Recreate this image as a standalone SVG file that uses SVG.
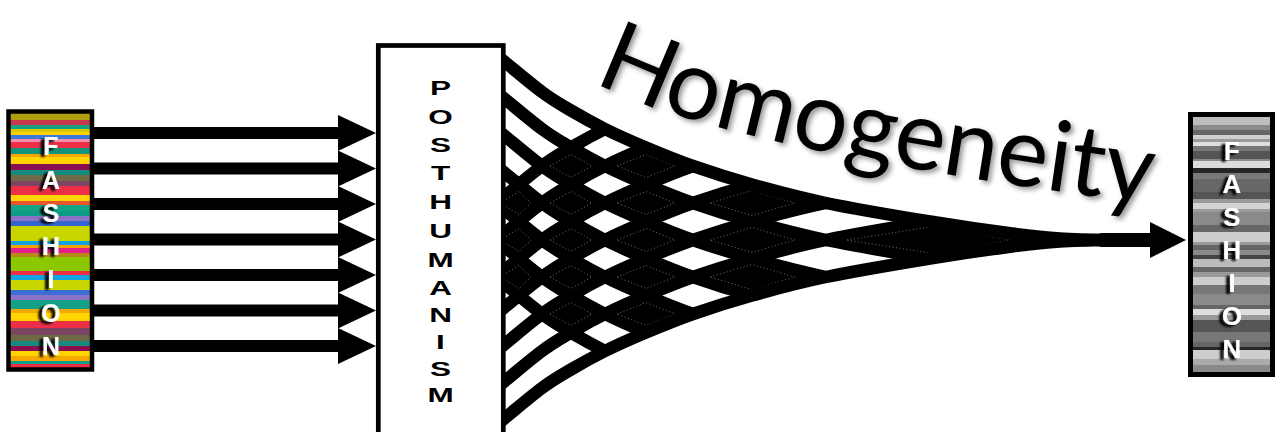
<svg xmlns="http://www.w3.org/2000/svg" xmlns:xlink="http://www.w3.org/1999/xlink" width="1275" height="432" viewBox="0 0 1275 432">
<defs>
<style>
.fl{font-family:"Liberation Sans",Arial,sans-serif;font-weight:bold;font-size:25px;fill:#fff;text-anchor:middle;filter:url(#sh)}
.fr{font-family:"Liberation Sans",Arial,sans-serif;font-weight:bold;font-size:26px;fill:#fff;text-anchor:middle;filter:url(#sh)}
.ph{font-family:"Liberation Sans",Arial,sans-serif;font-weight:bold;font-size:21px;fill:#000;text-anchor:middle}
.hom{font-family:Lato,"Noto Sans",sans-serif;font-size:98px;fill:#000;filter:url(#tsh)}
.ln{fill:none;stroke:#000;stroke-width:12.5}
.cell{fill:#000}
.dot{fill:none;stroke:#8a8a8a;stroke-width:0.8;stroke-dasharray:1 2.5}
.box{fill:none;stroke:#000}
</style>
<filter id="sh" x="-60%" y="-30%" width="220%" height="160%"><feDropShadow dx="-4" dy="2" stdDeviation="1.3" flood-color="#000" flood-opacity="1"/></filter>
<filter id="tsh" filterUnits="userSpaceOnUse" x="540" y="0" width="700" height="280"><feDropShadow dx="3" dy="3" stdDeviation="2.5" flood-color="#000" flood-opacity="0.4"/></filter>
<path id="gd" class="ln" d="M500,-9 C514,2.3 530.2,16.3 542,25 C553.8,33.8 560.5,37.3 571,43.5 C581.5,49.7 592.5,55.8 605,62 C617.5,68.2 631.3,74.3 646,80.5 C660.7,86.7 675.3,92.8 693,99 C710.7,105.2 729.8,111.3 752,117.5 C774.2,123.7 796.3,129.8 826,136 C855.7,142.2 899,149.4 930,154.5 C961,159.6 990.3,163.7 1012,166.5 C1033.7,169.3 1043.7,170.4 1060,171.5 C1076.3,172.6 1093.3,172.8 1110,173 L1160,173"/>
<path id="gu" class="ln" d="M500,9 C514,-2.3 530.2,-16.3 542,-25 C553.8,-33.8 560.5,-37.3 571,-43.5 C581.5,-49.7 592.5,-55.8 605,-62 C617.5,-68.2 631.3,-74.3 646,-80.5 C660.7,-86.7 675.3,-92.8 693,-99 C710.7,-105.2 729.8,-111.3 752,-117.5 C774.2,-123.7 796.3,-129.8 826,-136 C855.7,-142.2 899,-149.4 930,-154.5 C961,-159.6 990.3,-163.7 1012,-166.5 C1033.7,-169.3 1043.7,-170.4 1060,-171.5 C1076.3,-172.6 1093.3,-172.8 1110,-173 L1160,-173"/>
<clipPath id="fanclip"><path d="M500,58 C514,69.3 530.2,83.3 542,92 C553.8,100.8 560.5,104.3 571,110.5 C581.5,116.7 592.5,122.8 605,129 C617.5,135.2 631.3,141.3 646,147.5 C660.7,153.7 675.3,159.8 693,166 C710.7,172.2 729.8,178.3 752,184.5 C774.2,190.7 796.3,196.8 826,203 C855.7,209.2 899,216.4 930,221.5 C961,226.6 990.3,230.7 1012,233.5 C1033.7,236.3 1043.7,237.4 1060,238.5 C1076.3,239.6 1093.3,239.8 1110,240 L1165,240 L1110,240 C1093.3,240.2 1076.3,240.4 1060,241.5 C1043.7,242.6 1033.7,243.7 1012,246.5 C990.3,249.3 961,253.4 930,258.5 C899,263.6 855.7,270.8 826,277 C796.3,283.2 774.2,289.3 752,295.5 C729.8,301.7 710.7,307.8 693,314 C675.3,320.2 660.7,326.3 646,332.5 C631.3,338.7 617.5,344.8 605,351 C592.5,357.2 581.5,363.3 571,369.5 C560.5,375.7 553.8,379.2 542,388 C530.2,396.7 514,410.7 500,422 Z"/></clipPath>
<path id="hbase" d="M594,81 Q710,147 1152,204 L1262,218" fill="none"/>
<g id="arr"><rect x="93" y="-6" width="246" height="12" fill="#000"/><polygon points="338,-18 376,0 338,18" fill="#000"/></g>
</defs>
<rect x="0" y="0" width="1275" height="432" fill="#fff"/>

<g id="connectors">
<g id="input-arrows">
<use href="#arr" y="133"/>
<use href="#arr" y="168.5"/>
<use href="#arr" y="204"/>
<use href="#arr" y="239.5"/>
<use href="#arr" y="275"/>
<use href="#arr" y="310.5"/>
<use href="#arr" y="346"/>
</g>
<g id="homogenizing-fan">
<g clip-path="url(#fanclip)">
<polygon class="cell" points="495,203 519,184.5 542,203 519,221.5"/>
<polygon class="cell" points="495,240 519,221.5 542,240 519,258.5"/>
<polygon class="cell" points="495,277 519,258.5 542,277 519,295.5"/>
<polygon class="cell" points="542,166 571,147.5 605,166 571,184.5"/>
<polygon class="cell" points="542,203 571,184.5 605,203 571,221.5"/>
<polygon class="cell" points="542,240 571,221.5 605,240 571,258.5"/>
<polygon class="cell" points="542,277 571,258.5 605,277 571,295.5"/>
<polygon class="cell" points="542,314 571,295.5 605,314 571,332.5"/>
<polygon class="cell" points="605,166 646,147.5 693,166 646,184.5"/>
<polygon class="cell" points="605,203 646,184.5 693,203 646,221.5"/>
<polygon class="cell" points="605,240 646,221.5 693,240 646,258.5"/>
<polygon class="cell" points="605,277 646,258.5 693,277 646,295.5"/>
<polygon class="cell" points="605,314 646,295.5 693,314 646,332.5"/>
<polygon class="cell" points="693,203 752,184.5 826,203 752,221.5"/>
<polygon class="cell" points="693,240 752,221.5 826,240 752,258.5"/>
<polygon class="cell" points="693,277 752,258.5 826,277 752,295.5"/>
<polygon class="cell" points="826,240 930,221.5 1110,240 930,258.5"/>
<use href="#gd" y="104"/>
<use href="#gd" y="141"/>
<use href="#gd" y="178"/>
<use href="#gd" y="215"/>
<use href="#gd" y="252"/>
<use href="#gd" y="289"/>
<use href="#gu" y="376"/>
<use href="#gu" y="339"/>
<use href="#gu" y="302"/>
<use href="#gu" y="265"/>
<use href="#gu" y="228"/>
<use href="#gu" y="191"/>
<polygon class="dot" points="500,203 519,191.5 531,203 519,214.5"/>
<polygon class="dot" points="500,240 519,228.5 531,240 519,251.5"/>
<polygon class="dot" points="500,277 519,265.5 531,277 519,288.5"/>
<polygon class="dot" points="550,166 571,154.5 592,166 571,177.5"/>
<polygon class="dot" points="550,203 571,191.5 592,203 571,214.5"/>
<polygon class="dot" points="550,240 571,228.5 592,240 571,251.5"/>
<polygon class="dot" points="550,277 571,265.5 592,277 571,288.5"/>
<polygon class="dot" points="550,314 571,302.5 592,314 571,325.5"/>
<polygon class="dot" points="617,166 646,154.5 675,166 646,177.5"/>
<polygon class="dot" points="617,203 646,191.5 675,203 646,214.5"/>
<polygon class="dot" points="617,240 646,228.5 675,240 646,251.5"/>
<polygon class="dot" points="617,277 646,265.5 675,277 646,288.5"/>
<polygon class="dot" points="617,314 646,302.5 675,314 646,325.5"/>
<polygon class="dot" points="710,203 752,190.5 795,203 752,215.5"/>
<polygon class="dot" points="710,240 752,227.5 795,240 752,252.5"/>
<polygon class="dot" points="710,277 752,264.5 795,277 752,289.5"/>
<polygon class="dot" points="847,240 930,227 1012,240 930,253"/>
</g>
<use href="#gd" y="67"/>
<use href="#gu" y="413"/>
<rect x="1100" y="233" width="52" height="14" fill="#000"/>
<polygon points="1150,222 1186,240 1150,258" fill="#000"/>
</g>
</g>

<g id="fashion-left">
<rect x="10" y="113" width="81" height="255" fill="#ec2f47"/>
<rect x="10" y="113" width="81" height="7" fill="#b0a010"/>
<rect x="10" y="120" width="81" height="5" fill="#c8384a"/>
<rect x="10" y="125" width="81" height="4" fill="#17a37f"/>
<rect x="10" y="129" width="81" height="3" fill="#d4c800"/>
<rect x="10" y="132" width="81" height="3" fill="#ffd200"/>
<rect x="10" y="135" width="81" height="4" fill="#3b78d8"/>
<rect x="10" y="139" width="81" height="3" fill="#f58fb0"/>
<rect x="10" y="142" width="81" height="6" fill="#ec2f47"/>
<rect x="10" y="148" width="81" height="6" fill="#14937c"/>
<rect x="10" y="154" width="81" height="3" fill="#f6a800"/>
<rect x="10" y="157" width="81" height="7" fill="#ffd400"/>
<rect x="10" y="164" width="81" height="6" fill="#8b0f50"/>
<rect x="10" y="170" width="81" height="5" fill="#168a7c"/>
<rect x="10" y="175" width="81" height="6" fill="#6d6a45"/>
<rect x="10" y="181" width="81" height="5" fill="#7d4563"/>
<rect x="10" y="186" width="81" height="9" fill="#ec2f47"/>
<rect x="10" y="195" width="81" height="6" fill="#ffd400"/>
<rect x="10" y="201" width="81" height="4" fill="#e9562d"/>
<rect x="10" y="205" width="81" height="6" fill="#15a384"/>
<rect x="10" y="211" width="81" height="5" fill="#0e9b85"/>
<rect x="10" y="216" width="81" height="5" fill="#8a72c4"/>
<rect x="10" y="221" width="81" height="5" fill="#3465d0"/>
<rect x="10" y="226" width="81" height="15" fill="#c9d600"/>
<rect x="10" y="241" width="81" height="4" fill="#12a2e2"/>
<rect x="10" y="245" width="81" height="3" fill="#f4a300"/>
<rect x="10" y="248" width="81" height="5" fill="#e0218a"/>
<rect x="10" y="253" width="81" height="4" fill="#b98a1a"/>
<rect x="10" y="257" width="81" height="14" fill="#8cc800"/>
<rect x="10" y="271" width="81" height="4" fill="#ec2f47"/>
<rect x="10" y="275" width="81" height="5" fill="#14a3e0"/>
<rect x="10" y="280" width="81" height="10" fill="#c9d600"/>
<rect x="10" y="290" width="81" height="5" fill="#3b6fd6"/>
<rect x="10" y="295" width="81" height="5" fill="#8a72c4"/>
<rect x="10" y="300" width="81" height="9" fill="#14a086"/>
<rect x="10" y="309" width="81" height="4" fill="#f6a800"/>
<rect x="10" y="313" width="81" height="8" fill="#ffd400"/>
<rect x="10" y="321" width="81" height="7" fill="#ec2f47"/>
<rect x="10" y="328" width="81" height="7" fill="#7d4563"/>
<rect x="10" y="335" width="81" height="6" fill="#6d6a45"/>
<rect x="10" y="341" width="81" height="5" fill="#168a7c"/>
<rect x="10" y="346" width="81" height="5" fill="#8b0f50"/>
<rect x="10" y="351" width="81" height="5" fill="#ffd400"/>
<rect x="10" y="356" width="81" height="5" fill="#f6a800"/>
<rect x="10" y="361" width="81" height="3" fill="#14a086"/>
<rect class="box" x="8.5" y="111.5" width="83.5" height="258" stroke-width="4.5"/>
<text class="fl"><tspan x="51" y="155">F</tspan><tspan x="51" y="189">A</tspan><tspan x="51" y="222">S</tspan><tspan x="51" y="255">H</tspan><tspan x="51" y="288">I</tspan><tspan x="51" y="322">O</tspan><tspan x="51" y="355">N</tspan></text>
</g>

<g id="posthumanism">
<rect x="378.3" y="45.5" width="125" height="400" fill="#fff" stroke="#000" stroke-width="4.7"/>
<g transform="translate(440.5,0) scale(1.5,1)">
<text class="ph"><tspan x="0" y="95">P</tspan><tspan x="0" y="124">O</tspan><tspan x="0" y="152">S</tspan><tspan x="0" y="180">T</tspan><tspan x="0" y="209">H</tspan><tspan x="0" y="238">U</tspan><tspan x="0" y="267">M</tspan><tspan x="0" y="295">A</tspan><tspan x="0" y="322">N</tspan><tspan x="0" y="349">I</tspan><tspan x="0" y="376">S</tspan><tspan x="0" y="402">M</tspan></text>
</g>
</g>

<g id="homogeneity-label">
<text class="hom"><textPath href="#hbase" textLength="572" lengthAdjust="spacingAndGlyphs">Homogeneity</textPath></text>
</g>

<g id="fashion-right">
<rect x="1192" y="117" width="79" height="256" fill="#888"/>
<rect x="1192" y="117" width="79" height="8" fill="#bdbdbd"/>
<rect x="1192" y="125" width="79" height="5" fill="#8a8a8a"/>
<rect x="1192" y="130" width="79" height="5" fill="#666"/>
<rect x="1192" y="135" width="79" height="4" fill="#cfcfcf"/>
<rect x="1192" y="139" width="79" height="3" fill="#9a9a9a"/>
<rect x="1192" y="142" width="79" height="4" fill="#dedede"/>
<rect x="1192" y="146" width="79" height="5" fill="#777"/>
<rect x="1192" y="151" width="79" height="8" fill="#555"/>
<rect x="1192" y="159" width="79" height="2" fill="#8a8a8a"/>
<rect x="1192" y="161" width="79" height="7" fill="#dcdcdc"/>
<rect x="1192" y="168" width="79" height="5" fill="#262626"/>
<rect x="1192" y="173" width="79" height="6" fill="#7a7a7a"/>
<rect x="1192" y="179" width="79" height="13" fill="#676767"/>
<rect x="1192" y="192" width="79" height="7" fill="#555"/>
<rect x="1192" y="199" width="79" height="4" fill="#9a9a9a"/>
<rect x="1192" y="203" width="79" height="6" fill="#d4d4d4"/>
<rect x="1192" y="209" width="79" height="3" fill="#9a9a9a"/>
<rect x="1192" y="212" width="79" height="13" fill="#8a8a8a"/>
<rect x="1192" y="225" width="79" height="7" fill="#676767"/>
<rect x="1192" y="232" width="79" height="10" fill="#cdcdcd"/>
<rect x="1192" y="242" width="79" height="3" fill="#9a9a9a"/>
<rect x="1192" y="245" width="79" height="5" fill="#666"/>
<rect x="1192" y="250" width="79" height="5" fill="#8a8a8a"/>
<rect x="1192" y="255" width="79" height="4" fill="#444"/>
<rect x="1192" y="259" width="79" height="8" fill="#bcbcbc"/>
<rect x="1192" y="267" width="79" height="5" fill="#666"/>
<rect x="1192" y="272" width="79" height="5" fill="#9a9a9a"/>
<rect x="1192" y="277" width="79" height="8" fill="#cdcdcd"/>
<rect x="1192" y="285" width="79" height="9" fill="#777"/>
<rect x="1192" y="294" width="79" height="11" fill="#8a8a8a"/>
<rect x="1192" y="305" width="79" height="4" fill="#666"/>
<rect x="1192" y="309" width="79" height="6" fill="#dedede"/>
<rect x="1192" y="315" width="79" height="5" fill="#9a9a9a"/>
<rect x="1192" y="320" width="79" height="12" fill="#555"/>
<rect x="1192" y="332" width="79" height="10" fill="#777"/>
<rect x="1192" y="342" width="79" height="5" fill="#666"/>
<rect x="1192" y="347" width="79" height="3" fill="#262626"/>
<rect x="1192" y="350" width="79" height="9" fill="#cdcdcd"/>
<rect x="1192" y="359" width="79" height="6" fill="#aaa"/>
<rect x="1192" y="365" width="79" height="8" fill="#8a8a8a"/>
<rect class="box" x="1190.5" y="114.5" width="82" height="260" stroke-width="5"/>
<text class="fr"><tspan x="1232" y="160">F</tspan><tspan x="1232" y="193">A</tspan><tspan x="1232" y="226">S</tspan><tspan x="1232" y="259">H</tspan><tspan x="1232" y="292">I</tspan><tspan x="1232" y="325">O</tspan><tspan x="1232" y="358">N</tspan></text>
</g>
</svg>
